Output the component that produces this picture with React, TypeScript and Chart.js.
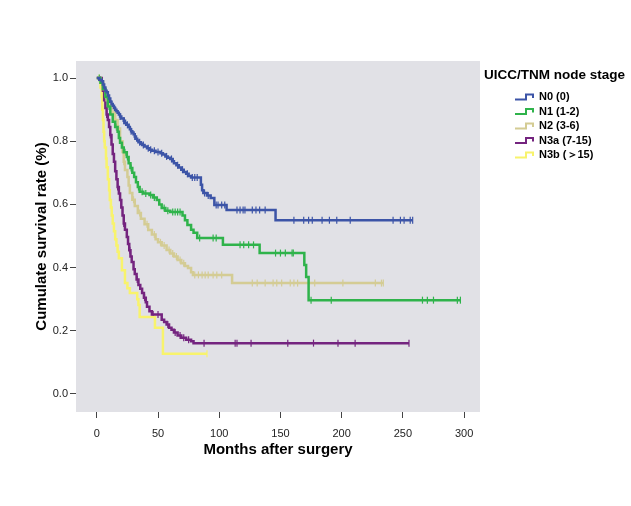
import React, { useEffect, useRef } from "react";
import { Chart, registerables } from "chart.js";

Chart.register(...registerables);

// ---- Data ----
const GROUPS = ["N0 (0)", "N1 (1-2)", "N2 (3-6)", "N3a (7-15)", "N3b (＞15)"];
const COLORS = ["#3c54a7", "#2fb34b", "#d4cc94", "#74247f", "#f8f36c"];
const LEGEND_TITLE = "UICC/TNM node stage";
const X_TITLE = "Months after surgery";
const Y_TITLE = "Cumulate survival rate (%)";
const X_TICKS = [0, 50, 100, 150, 200, 250, 300];
const Y_TICKS = [0, 0.2, 0.4, 0.6, 0.8, 1.0];

// N0
const N0_TIME = [0, 2, 4, 5, 6, 7, 8, 9, 10, 11, 12, 13, 14, 15, 16, 17, 18, 19, 20, 22, 23, 24, 26, 27, 28, 29, 30, 31, 32, 33, 34, 36, 37, 39, 41, 43, 45, 48, 52, 54, 56, 58, 60, 62, 63, 65, 67, 69, 71, 73, 75, 77, 85, 86, 87, 90, 93, 96, 106, 146];
const N0_SURV = [1, 0.995, 0.99, 0.98, 0.97, 0.96, 0.955, 0.945, 0.935, 0.925, 0.918, 0.912, 0.905, 0.9, 0.895, 0.89, 0.885, 0.878, 0.872, 0.865, 0.858, 0.852, 0.845, 0.838, 0.832, 0.828, 0.822, 0.815, 0.808, 0.802, 0.797, 0.792, 0.788, 0.783, 0.778, 0.773, 0.77, 0.766, 0.762, 0.758, 0.752, 0.748, 0.744, 0.737, 0.73, 0.724, 0.717, 0.71, 0.703, 0.697, 0.69, 0.685, 0.662, 0.645, 0.636, 0.628, 0.62, 0.598, 0.582, 0.55];
const N0_CENSOR = [3, 6, 9, 12, 15, 19, 22, 25, 28, 31, 35, 38, 42, 44, 47, 50, 53, 57, 61, 66, 70, 74, 78, 80, 82, 88, 91, 97.5, 99, 102, 104.5, 114.5, 117, 119.5, 121, 127, 130, 133, 137.5, 161, 169, 173, 176, 184, 190, 196, 207, 242, 248, 251, 256, 258];
const N0_END = 258;

// N1
const N1_TIME = [0, 3, 5, 7, 9, 11, 13, 15, 17, 18, 19, 20.5, 22, 24.5, 26, 27.5, 29, 30.5, 32, 33.5, 35, 38, 43, 46, 49, 51, 53, 56, 60, 70, 72, 74, 77, 79, 82, 103, 133, 169.5, 171, 173];
const N1_SURV = [1, 0.985, 0.965, 0.94, 0.91, 0.885, 0.862, 0.845, 0.83, 0.81, 0.795, 0.78, 0.765, 0.75, 0.73, 0.715, 0.7, 0.687, 0.67, 0.655, 0.64, 0.635, 0.63, 0.622, 0.614, 0.6, 0.589, 0.58, 0.576, 0.565, 0.55, 0.535, 0.52, 0.51, 0.494, 0.472, 0.446, 0.408, 0.37, 0.297];
const N1_CENSOR = [2, 10, 16, 21, 23, 25, 28, 34, 37, 40, 44, 47, 55, 58, 62, 64, 66, 68, 84, 95, 97.5, 117, 120, 124, 128, 146, 150, 154, 159.5, 160.5, 175, 191.5, 266, 270, 275, 294.5, 297];
const N1_END = 297;

// N2
const N2_TIME = [0, 3, 5, 7, 8, 10, 12, 15, 17, 19, 21, 22, 23, 25, 26, 27, 29, 31, 33.5, 36, 39, 42, 45, 48, 50, 53, 57, 60, 63, 66, 69, 72, 74.5, 77, 78.5, 110.5];
const N2_SURV = [1, 0.985, 0.965, 0.945, 0.93, 0.91, 0.89, 0.867, 0.84, 0.8, 0.766, 0.735, 0.709, 0.687, 0.66, 0.636, 0.615, 0.595, 0.573, 0.555, 0.537, 0.519, 0.505, 0.49, 0.48, 0.47, 0.456, 0.445, 0.435, 0.424, 0.414, 0.405, 0.399, 0.385, 0.377, 0.351];
const N2_CENSOR = [4, 11, 14, 18, 22, 30, 35, 41, 47, 52, 55, 59, 62, 65, 68, 71, 80, 83, 86, 88.5, 91, 95, 98, 102, 127, 131, 137.5, 144, 147, 151, 158, 161, 164, 178, 201, 227.5, 232.5, 234];
const N2_END = 234;

// N3a
const N3A_TIME = [0, 4, 5, 6, 7, 8, 9, 10, 11, 12, 13, 14, 15, 16, 17, 18, 19, 20, 21, 22, 23, 24.5, 25.5, 26.5, 27.5, 28.5, 30, 31, 32.5, 34, 35.5, 37, 38.5, 40, 41, 43, 45, 53, 55, 57, 59, 61, 63, 66, 69, 73, 77, 79];
const N3A_SURV = [1, 0.99, 0.96, 0.93, 0.905, 0.885, 0.867, 0.845, 0.82, 0.79, 0.76, 0.735, 0.705, 0.68, 0.655, 0.635, 0.614, 0.59, 0.565, 0.54, 0.52, 0.497, 0.475, 0.455, 0.435, 0.418, 0.395, 0.38, 0.362, 0.345, 0.333, 0.32, 0.305, 0.29, 0.276, 0.262, 0.252, 0.235, 0.228, 0.22, 0.21, 0.203, 0.195, 0.185, 0.178, 0.172, 0.167, 0.161];
const N3A_CENSOR = [8, 11, 17, 22, 27, 33, 39, 46, 50, 58, 64, 68, 71, 75, 87.6, 113, 114.5, 126, 156, 177, 197, 211, 255];
const N3A_END = 255;

// N3b
const N3B_TIME = [0, 3, 4, 4.5, 5, 5.5, 6, 6.5, 7.5, 8, 9, 10, 10.6, 11.5, 12.2, 13, 14, 15, 16, 17, 18, 20.5, 23, 25, 27, 33, 34, 35, 47.5, 54];
const N3B_SURV = [1, 0.97, 0.94, 0.9, 0.867, 0.83, 0.8, 0.78, 0.745, 0.718, 0.68, 0.645, 0.614, 0.59, 0.565, 0.54, 0.515, 0.49, 0.47, 0.45, 0.43, 0.392, 0.351, 0.335, 0.32, 0.3, 0.282, 0.244, 0.21, 0.127];
const N3B_CENSOR = [2, 12, 90];
const N3B_END = 90;

const FONT = "'Liberation Sans', Arial, Helvetica, sans-serif";

function survivalAt(times: number[], surv: number[], t: number): number {
  let v = surv[0];
  for (let i = 0; i < times.length; i++) if (times[i] <= t) v = surv[i];
  return v;
}

export default function App() {
  const ref = useRef<HTMLCanvasElement>(null);

  useEffect(() => {
    if (!ref.current) return;
    const series = [
      { t: N0_TIME, s: N0_SURV, c: N0_CENSOR, end: N0_END },
      { t: N1_TIME, s: N1_SURV, c: N1_CENSOR, end: N1_END },
      { t: N2_TIME, s: N2_SURV, c: N2_CENSOR, end: N2_END },
      { t: N3A_TIME, s: N3A_SURV, c: N3A_CENSOR, end: N3A_END },
      { t: N3B_TIME, s: N3B_SURV, c: N3B_CENSOR, end: N3B_END },
    ];
    const datasets: any[] = [];
    series.forEach((sr, i) => {
      const pts = sr.t.map((t, k) => ({ x: t, y: sr.s[k] }));
      pts.push({ x: sr.end, y: sr.s[sr.s.length - 1] });
      datasets.push({
        type: "line",
        label: GROUPS[i],
        data: pts,
        stepped: "before",
        borderColor: COLORS[i],
        borderWidth: 2.5,
        pointRadius: 0,
        fill: false,
      });
    });
    series.forEach((sr, i) => {
      datasets.push({
        type: "line",
        label: GROUPS[i] + " censored",
        data: sr.c.map((t) => ({ x: t, y: survivalAt(sr.t, sr.s, t) })),
        showLine: false,
        pointStyle: "line",
        pointRotation: 90,
        pointRadius: 3.5,
        pointBorderColor: COLORS[i],
        pointBorderWidth: 1.2,
        borderColor: COLORS[i],
        backgroundColor: COLORS[i],
      });
    });

    const bgPlugin = {
      id: "plotBg",
      beforeDraw(chart: any) {
        const { ctx, chartArea } = chart;
        ctx.save();
        ctx.fillStyle = "#ffffff";
        ctx.fillRect(0, 0, chart.width, chart.height);
        ctx.fillStyle = "#e1e1e6";
        ctx.fillRect(chartArea.left, chartArea.top, chartArea.right - chartArea.left, chartArea.bottom - chartArea.top);
        ctx.restore();
      },
    };

    const legendPlugin = {
      id: "kmLegend",
      afterDraw(chart: any) {
        const ctx = chart.ctx;
        ctx.save();
        ctx.fillStyle = "#000";
        ctx.textBaseline = "middle";
        ctx.textAlign = "left";
        ctx.font = `bold 13.5px ${FONT}`;
        ctx.fillText(LEGEND_TITLE, 484, 75);
        ctx.font = `bold 11px ${FONT}`;
        GROUPS.forEach((g, i) => {
          const y = 97 + i * 14.5;
          ctx.strokeStyle = COLORS[i];
          ctx.lineWidth = 2;
          ctx.beginPath();
          ctx.moveTo(515, y + 2.5);
          ctx.lineTo(526, y + 2.5);
          ctx.lineTo(526, y - 2.5);
          ctx.lineTo(533, y - 2.5);
          ctx.lineTo(533, y + 1);
          ctx.stroke();
          ctx.fillStyle = "#000";
          ctx.fillText(g, 539, y);
        });
        ctx.restore();
      },
    };

    const chart = new Chart(ref.current, {
      type: "line",
      data: { datasets },
      options: {
        responsive: false,
        animation: false,
        layout: { padding: { left: 0, top: 61, right: 151, bottom: 0 } },
        plugins: { legend: { display: false }, tooltip: { enabled: false } },
        scales: {
          x: {
            type: "linear",
            min: -17,
            max: 313,
            afterBuildTicks: (s: any) => {
              s.ticks = X_TICKS.map((v) => ({ value: v }));
            },
            afterFit: (s: any) => {
              s.height = 94;
            },
            ticks: {
              autoSkip: false,
              maxRotation: 0,
              padding: 9,
              color: "#222",
              font: { family: FONT, size: 11 },
            },
            grid: { drawOnChartArea: false, drawTicks: true, tickLength: 6, color: "#444", lineWidth: 1 },
            border: { display: false },
            title: {
              display: true,
              text: X_TITLE,
              color: "#000",
              font: { family: FONT, size: 15, weight: "bold" },
              padding: { top: 0, bottom: 47 },
            },
          },
          y: {
            type: "linear",
            min: -0.057,
            max: 1.054,
            afterBuildTicks: (s: any) => {
              s.ticks = Y_TICKS.map((v) => ({ value: v }));
            },
            afterFit: (s: any) => {
              s.width = 76;
            },
            ticks: {
              padding: 2,
              color: "#222",
              font: { family: FONT, size: 11 },
              callback: (v: any) => Number(v).toFixed(1),
            },
            grid: { drawOnChartArea: false, drawTicks: true, tickLength: 6, color: "#444", lineWidth: 1 },
            border: { display: false },
            title: {
              display: true,
              text: Y_TITLE,
              color: "#000",
              font: { family: FONT, size: 15, weight: "bold" },
              padding: { top: 33, bottom: 0 },
            },
          },
        },
      } as any,
      plugins: [bgPlugin, legendPlugin],
    });
    return () => chart.destroy();
  }, []);

  return (
    <div style={{ position: "absolute", left: 0, top: 0, width: 631, height: 506, background: "#fff" }}>
      <canvas ref={ref} width={631} height={506} style={{ display: "block", width: 631, height: 506 }} />
    </div>
  );
}
